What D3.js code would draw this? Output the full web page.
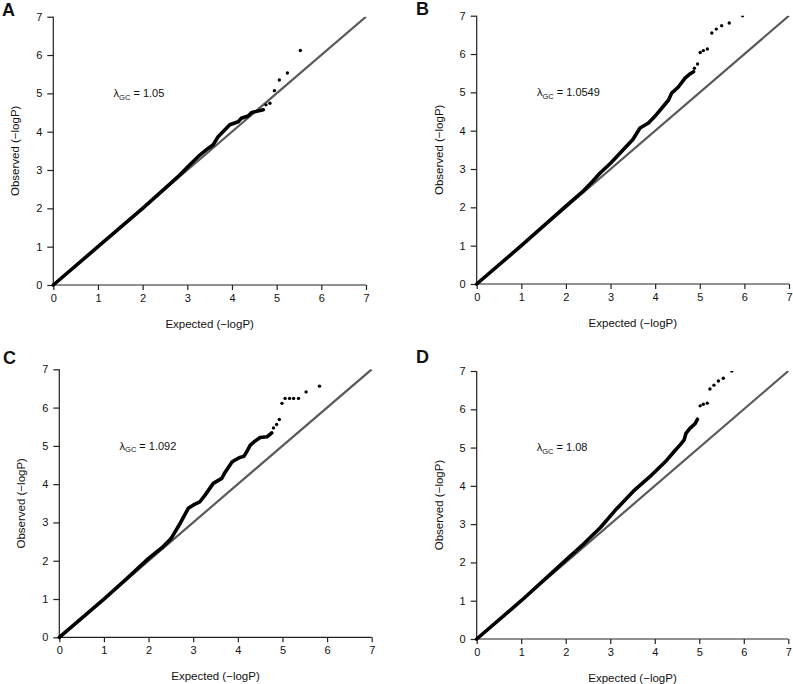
<!DOCTYPE html>
<html>
<head>
<meta charset="utf-8">
<script src="https://cdn.jsdelivr.net/npm/d3@7/dist/d3.min.js"></script>
<style>
  html, body { margin: 0; padding: 0; background: #fff; }
  svg { display: block; font-family: "Liberation Sans", Arial, Helvetica, sans-serif; }
</style>
</head>
<body>
<svg id="chart" width="793" height="684"></svg>
<script>
// ---------------- data ----------------
const panelLetters = ["A", "B", "C", "D"];
const lambdaValues = ["1.05", "1.0549", "1.092", "1.08"];
const axisTicks = [0, 1, 2, 3, 4, 5, 6, 7];
const xTitle = "Expected (\u2212logP)";
const yTitle = "Observed (\u2212logP)";

// dense part of each QQ curve: [expected, observed]
const curveA = [[0,0],[1,1],[2,2.0],[2.5,2.52],[2.83,2.87],[3.0,3.07],[3.28,3.39],[3.45,3.55],[3.58,3.66],[3.69,3.87],[3.95,4.18],[4.14,4.26],[4.21,4.35],[4.36,4.41],[4.44,4.50],[4.70,4.57]];
const tailA  = [[4.76,4.70],[4.85,4.74],[4.95,5.07],[5.06,5.35],[5.24,5.53],[5.53,6.12]];

const curveB = [[0,0],[1,1.0],[2,2.03],[2.4,2.44],[2.6,2.68],[2.76,2.89],[3.0,3.15],[3.21,3.41],[3.5,3.77],[3.66,4.07],[3.85,4.20],[4.0,4.38],[4.30,4.80],[4.37,4.98],[4.52,5.14],[4.67,5.37],[4.78,5.48],[4.86,5.54]];
const tailB  = [[4.88,5.63],[4.95,5.74],[5.01,6.04],[5.08,6.09],[5.17,6.13],[5.27,6.55],[5.37,6.65],[5.49,6.74],[5.66,6.81],[5.96,7.0]];

const curveC = [[0,0],[1,1.0],[1.5,1.52],[2.0,2.06],[2.3,2.34],[2.5,2.57],[2.71,2.98],[2.89,3.37],[3.04,3.48],[3.15,3.54],[3.27,3.72],[3.45,4.02],[3.64,4.15],[3.72,4.32],[3.87,4.58],[3.94,4.63],[4.05,4.70],[4.14,4.73],[4.20,4.85],[4.28,5.02],[4.37,5.11],[4.50,5.22],[4.66,5.24],[4.76,5.34]];
const tailC  = [[4.80,5.47],[4.87,5.56],[4.93,5.69],[4.99,6.11],[5.06,6.24],[5.16,6.24],[5.25,6.24],[5.36,6.24],[5.53,6.41],[5.83,6.56]];

const curveD = [[0,0],[1,1.0],[2,2.06],[2.4,2.48],[2.6,2.71],[2.77,2.9],[3.15,3.41],[3.52,3.86],[3.89,4.24],[4.27,4.67],[4.46,4.93],[4.57,5.07],[4.66,5.20],[4.70,5.37],[4.79,5.50],[4.91,5.63],[4.96,5.74]];
const tailD  = [[5.02,6.09],[5.09,6.13],[5.18,6.16],[5.24,6.53],[5.33,6.63],[5.43,6.74],[5.54,6.81],[5.73,7.0]];

const curves = [curveA, curveB, curveC, curveD];
const tails = [tailA, tailB, tailC, tailD];

// ---------------- layout ----------------
const frames = [
  {l: 53.3, r: 366.0, t: 16.7, b: 285.0, letterX: 2, letterY: 16},
  {l: 476.7, r: 789.0, t: 15.7, b: 284.0, letterX: 416, letterY: 15},
  {l: 59.3, r: 371.7, t: 369.3, b: 637.3, letterX: 3, letterY: 364},
  {l: 476.7, r: 788.3, t: 371.0, b: 639.0, letterX: 416, letterY: 363}
];

const svg = d3.select("#chart");

frames.forEach((f, i) => {
  const x = d3.scaleLinear().domain([0, 7]).range([f.l, f.r]);
  const y = d3.scaleLinear().domain([0, 7]).range([f.b, f.t]);
  const g = svg.append("g");

  const clipId = "clip" + i;
  svg.append("clipPath").attr("id", clipId)
    .append("rect").attr("x", f.l - 3).attr("y", f.t).attr("width", f.r - f.l + 6).attr("height", f.b - f.t + 3);

  const xAxis = d3.axisBottom(x).tickValues(axisTicks).tickSize(5).tickPadding(4).tickFormat(d3.format("d"));
  const yAxis = d3.axisLeft(y).tickValues(axisTicks).tickSize(6).tickPadding(5).tickFormat(d3.format("d"));
  const gx = g.append("g").attr("transform", `translate(0,${f.b})`).call(xAxis);
  const gy = g.append("g").attr("transform", `translate(${f.l},0)`).call(yAxis);
  [gx, gy].forEach(a => {
    a.select(".domain").attr("stroke", "#222").attr("stroke-width", 1.2)
      .attr("d", a === gx ? `M${f.l},0H${f.r}` : `M0,${f.b}V${f.t}`);
    a.selectAll(".tick line").attr("stroke", "#222").attr("stroke-width", 1.2);
    a.selectAll(".tick text").attr("fill", "#111").style("font-size", "11px")
      .style("font-family", "\"Liberation Sans\", Arial, sans-serif");
  });

  g.append("text").attr("x", (f.l + f.r) / 2).attr("y", f.b + 43)
    .attr("text-anchor", "middle").style("font-size", "11.5px").attr("fill", "#111").text(xTitle);
  g.append("text")
    .attr("transform", `translate(${f.l - 34},${(f.t + f.b) / 2}) rotate(-90)`)
    .attr("text-anchor", "middle").style("font-size", "11.5px").attr("fill", "#111").text(yTitle);

  svg.append("text").attr("x", f.letterX).attr("y", f.letterY)
    .style("font-size", "18px").style("font-weight", "bold").attr("fill", "#111").text(panelLetters[i]);

  const plot = g.append("g").attr("clip-path", `url(#${clipId})`);

  plot.append("line")
    .attr("x1", x(0)).attr("y1", y(0)).attr("x2", x(7)).attr("y2", y(7))
    .attr("stroke", "#5a5a5a").attr("stroke-width", 2.2);

  plot.append("path").datum(curves[i])
    .attr("d", d3.line().x(d => x(d[0])).y(d => y(d[1])))
    .attr("fill", "none").attr("stroke", "#000").attr("stroke-width", 3.6)
    .attr("stroke-linejoin", "round").attr("stroke-linecap", "round");

  plot.selectAll("circle.tail").data(tails[i]).enter().append("circle")
    .attr("class", "tail")
    .attr("cx", d => x(d[0])).attr("cy", d => y(d[1])).attr("r", 1.7).attr("fill", "#000");

  const lt = g.append("text").attr("x", x(1.35)).attr("y", y(5)).attr("dy", "0.35em")
    .style("font-size", "11px").attr("fill", "#111");
  lt.append("tspan").text("\u03bb");
  lt.append("tspan").attr("dy", "2.5").style("font-size", "7.5px").text("GC");
  lt.append("tspan").attr("dy", "-2.5").text(" = " + lambdaValues[i]);
});
</script>
</body>
</html>
